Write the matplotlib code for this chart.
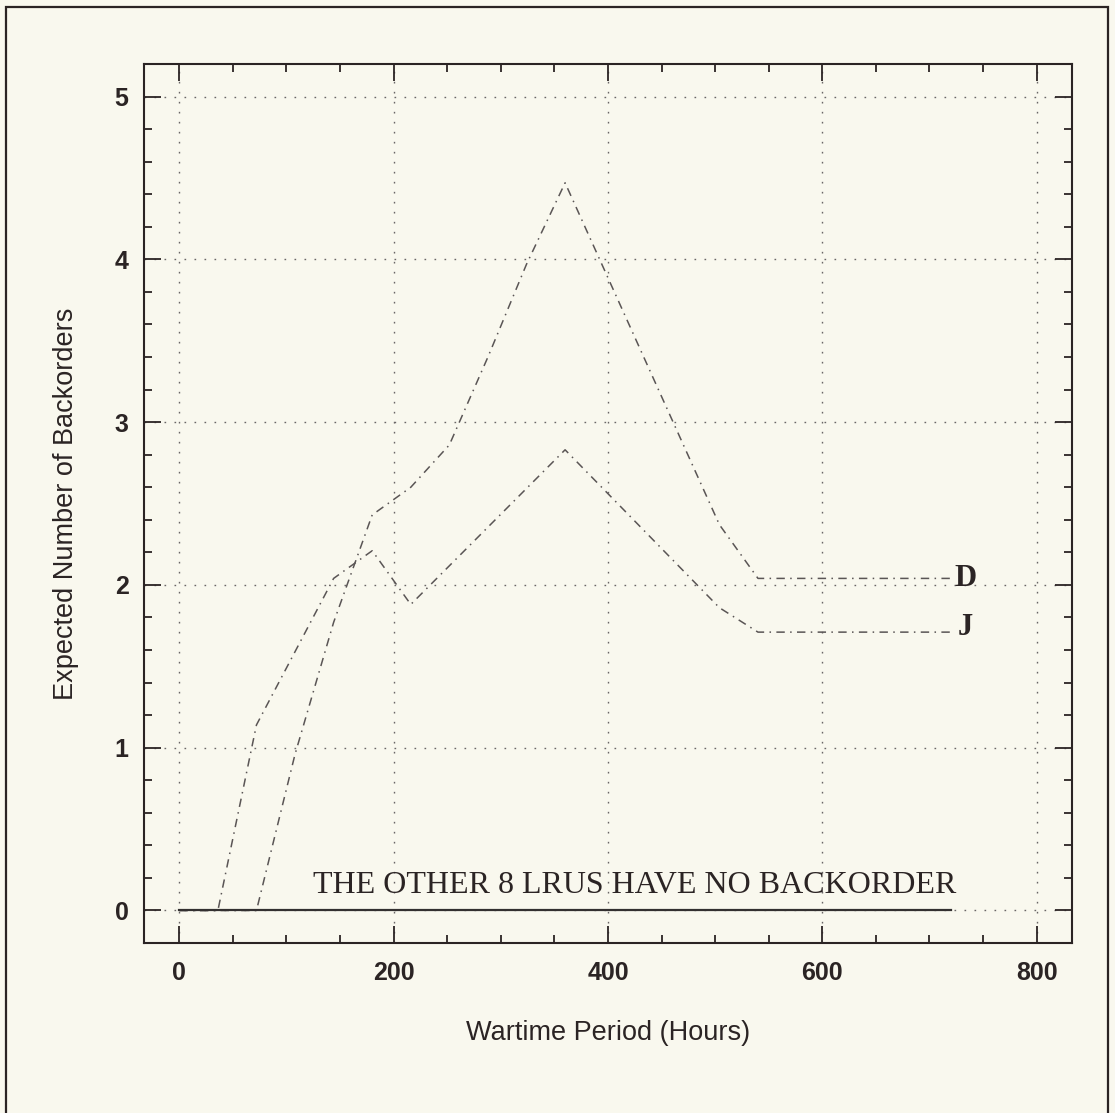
import numpy as np
import matplotlib
matplotlib.use('Agg')
import matplotlib.pyplot as plt
from matplotlib.ticker import MultipleLocator
from matplotlib.patches import Rectangle

# wartime hours and expected backorders
hours_d = [0, 72, 108, 144, 180, 216, 252, 288, 324, 360, 504, 540, 720]
backorders_d = [0, 0, 0.96, 1.77, 2.43, 2.60, 2.86, 3.40, 3.97, 4.47, 2.37, 2.04, 2.04]

hours_j = [0, 36, 72, 108, 144, 180, 216, 360, 504, 540, 720]
backorders_j = [0, 0, 1.14, 1.59, 2.04, 2.21, 1.88, 2.83, 1.86, 1.71, 1.71]

hours_other = [0, 720]
backorders_other = [0, 0]

x_ticks = [0, 200, 400, 600, 800]
y_ticks = [0, 1, 2, 3, 4, 5]

BG = '#f9f8ee'
INK = '#2b2424'
LINE = '#5a5555'

fig = plt.figure(figsize=(11.15, 11.13), dpi=100, facecolor=BG)
ax = fig.add_axes([0.1291, 0.1527, 0.8323, 0.7898], facecolor=BG)

# outer frame round the whole figure (bottom edge runs off the page)
fig.patches.append(Rectangle((6 / 1115, -0.05), 1102 / 1115, 1 - 7 / 1113 + 0.05,
                             transform=fig.transFigure, fill=False,
                             edgecolor=INK, linewidth=1.6))

dashdot = (0, (5.5, 3.5, 1, 3.5))
ax.plot(hours_d, backorders_d, color=LINE, lw=1.1, linestyle=dashdot, zorder=3)
ax.plot(hours_j, backorders_j, color=LINE, lw=1.1, linestyle=dashdot, zorder=3)
ax.plot(hours_other, backorders_other, color='#333030', lw=1.6, zorder=3)

ax.text(723, backorders_d[-1], 'D', fontsize=22, family='Liberation Serif',
        weight='bold', color=INK, va='center', ha='left')
ax.text(726, backorders_j[-1] + 0.03, 'J', fontsize=22, family='Liberation Serif',
        weight='bold', color=INK, va='center', ha='left')
ax.text(425, 0.11, 'THE OTHER 8 LRUS HAVE NO BACKORDER', fontsize=23,
        family='Liberation Serif', color=INK, ha='center', va='baseline')

ax.set_xlim(-33, 833)
ax.set_ylim(-0.2, 5.2)
ax.set_xticks(x_ticks)
ax.set_yticks(y_ticks)
ax.xaxis.set_minor_locator(MultipleLocator(50))
ax.yaxis.set_minor_locator(MultipleLocator(0.2))

ax.grid(True, which='major', color='#6a6666', linestyle=(0, (1.2, 6)), linewidth=1.0)

ax.tick_params(which='both', direction='in', top=True, right=True,
               color=INK, width=1.3)
ax.tick_params(which='major', length=12, labelsize=18, pad=13, labelcolor=INK)
ax.tick_params(which='minor', length=5.5)
ax.tick_params(axis='y', which='major', pad=11)
for lab in ax.get_xticklabels() + ax.get_yticklabels():
    lab.set_fontweight('bold')
    lab.set_family('Liberation Sans')

for sp in ax.spines.values():
    sp.set_color(INK)
    sp.set_linewidth(1.5)

ax.set_xlabel('Wartime Period (Hours)', fontsize=19.5, family='Liberation Sans', color=INK)
ax.set_ylabel('Expected Number of Backorders', fontsize=19.5, family='Liberation Sans', color=INK)
ax.xaxis.set_label_coords(0.5, -0.102)
ax.yaxis.set_label_coords(-0.0835, 0.5)
ax.xaxis.label.set_va('center')
ax.yaxis.label.set_va('center')

fig.savefig('out.png', dpi=100, facecolor=BG)
